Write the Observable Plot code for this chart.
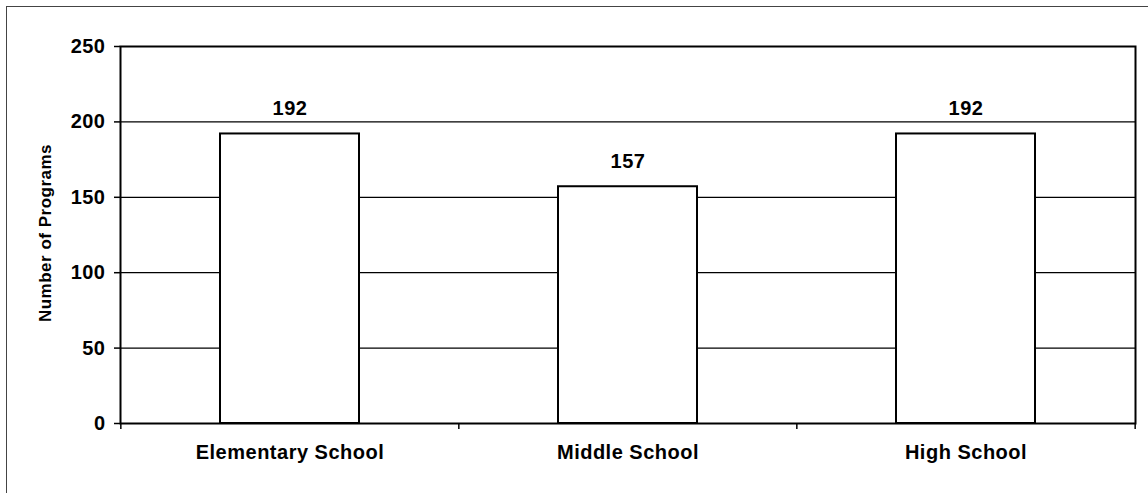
<!DOCTYPE html>
<html>
<head>
<meta charset="utf-8">
<script src="https://cdn.jsdelivr.net/npm/d3@7"></script>
<script src="https://cdn.jsdelivr.net/npm/@observablehq/plot@0.6"></script>
<style>
  html, body { margin: 0; padding: 0; background: #fff; }
  #wrap { position: relative; width: 1148px; height: 493px; overflow: hidden; }
  #outer { position: absolute; left: 6px; top: 6px; width: 1160px; height: 500px;
           border-left: 1px solid #444; border-top: 1px solid #444; pointer-events: none; }
  #wrap svg { position: absolute; left: 0; top: 0; }
  #wrap svg text { letter-spacing: 0.5px; }
  #wrap svg text.ytitle { letter-spacing: 0.3px; }
</style>
</head>
<body>
<div id="wrap"><div id="outer"></div></div>
<script>
const categories = ["Elementary School", "Middle School", "High School"];
const programs = [192, 157, 192];
const yTicks = [0, 50, 100, 150, 200, 250];
const yTitle = "Number of Programs";

const data = categories.map((c, i) => ({category: c, value: programs[i]}));

const W = 1148, H = 493, mL = 120, mR = 13, mT = 46, mB = 70;
const step = (W - mL - mR) / categories.length;
const font = "'Liberation Sans', Arial, Helvetica, sans-serif";

const chart = Plot.plot({
  width: W,
  height: H,
  marginLeft: mL,
  marginRight: mR,
  marginTop: mT,
  marginBottom: mB,
  style: {fontFamily: font, background: "transparent", color: "#000", overflow: "visible"},
  x: {domain: categories, paddingInner: 0.59, paddingOuter: 0.295, axis: null},
  y: {domain: [0, 250], axis: null},
  marks: [
    Plot.ruleY(yTicks.slice(1, -1), {stroke: "#000", strokeWidth: 1.2}),
    Plot.barY(data, {x: "category", y: "value", fill: "#fff", stroke: "#000", strokeWidth: 2}),
    Plot.frame({stroke: "#000", strokeWidth: 2}),
    Plot.axisY(yTicks, {tickSize: 6, tickPadding: 9, fontSize: 20, fontWeight: "bold", stroke: "#000", strokeWidth: 1.5, label: null}),
    Plot.axisX({tickSize: 0, tickPadding: 21, fontSize: 20, fontWeight: "bold", label: null}),
    Plot.ruleX(categories, {x: d => d, y1: 0, y2: 0, insetBottom: -6, dx: -step / 2, stroke: "#000", strokeWidth: 1.5}),
    Plot.ruleX(categories.slice(-1), {x: d => d, y1: 0, y2: 0, insetBottom: -6, dx: step / 2, stroke: "#000", strokeWidth: 1.5}),
    Plot.text(data, {x: "category", y: "value", text: d => String(d.value), dy: -19, lineAnchor: "bottom", fontSize: 20, fontWeight: "bold", fill: "#000"}),
    Plot.text([yTitle], {frameAnchor: "left", text: d => d, rotate: -90, dx: -75, dy: -2, fontSize: 17, fontWeight: "bold", fill: "#000", textAnchor: "middle", lineAnchor: "middle", className: "ytitle"})
  ]
});
document.getElementById("wrap").appendChild(chart);
</script>
</body>
</html>
